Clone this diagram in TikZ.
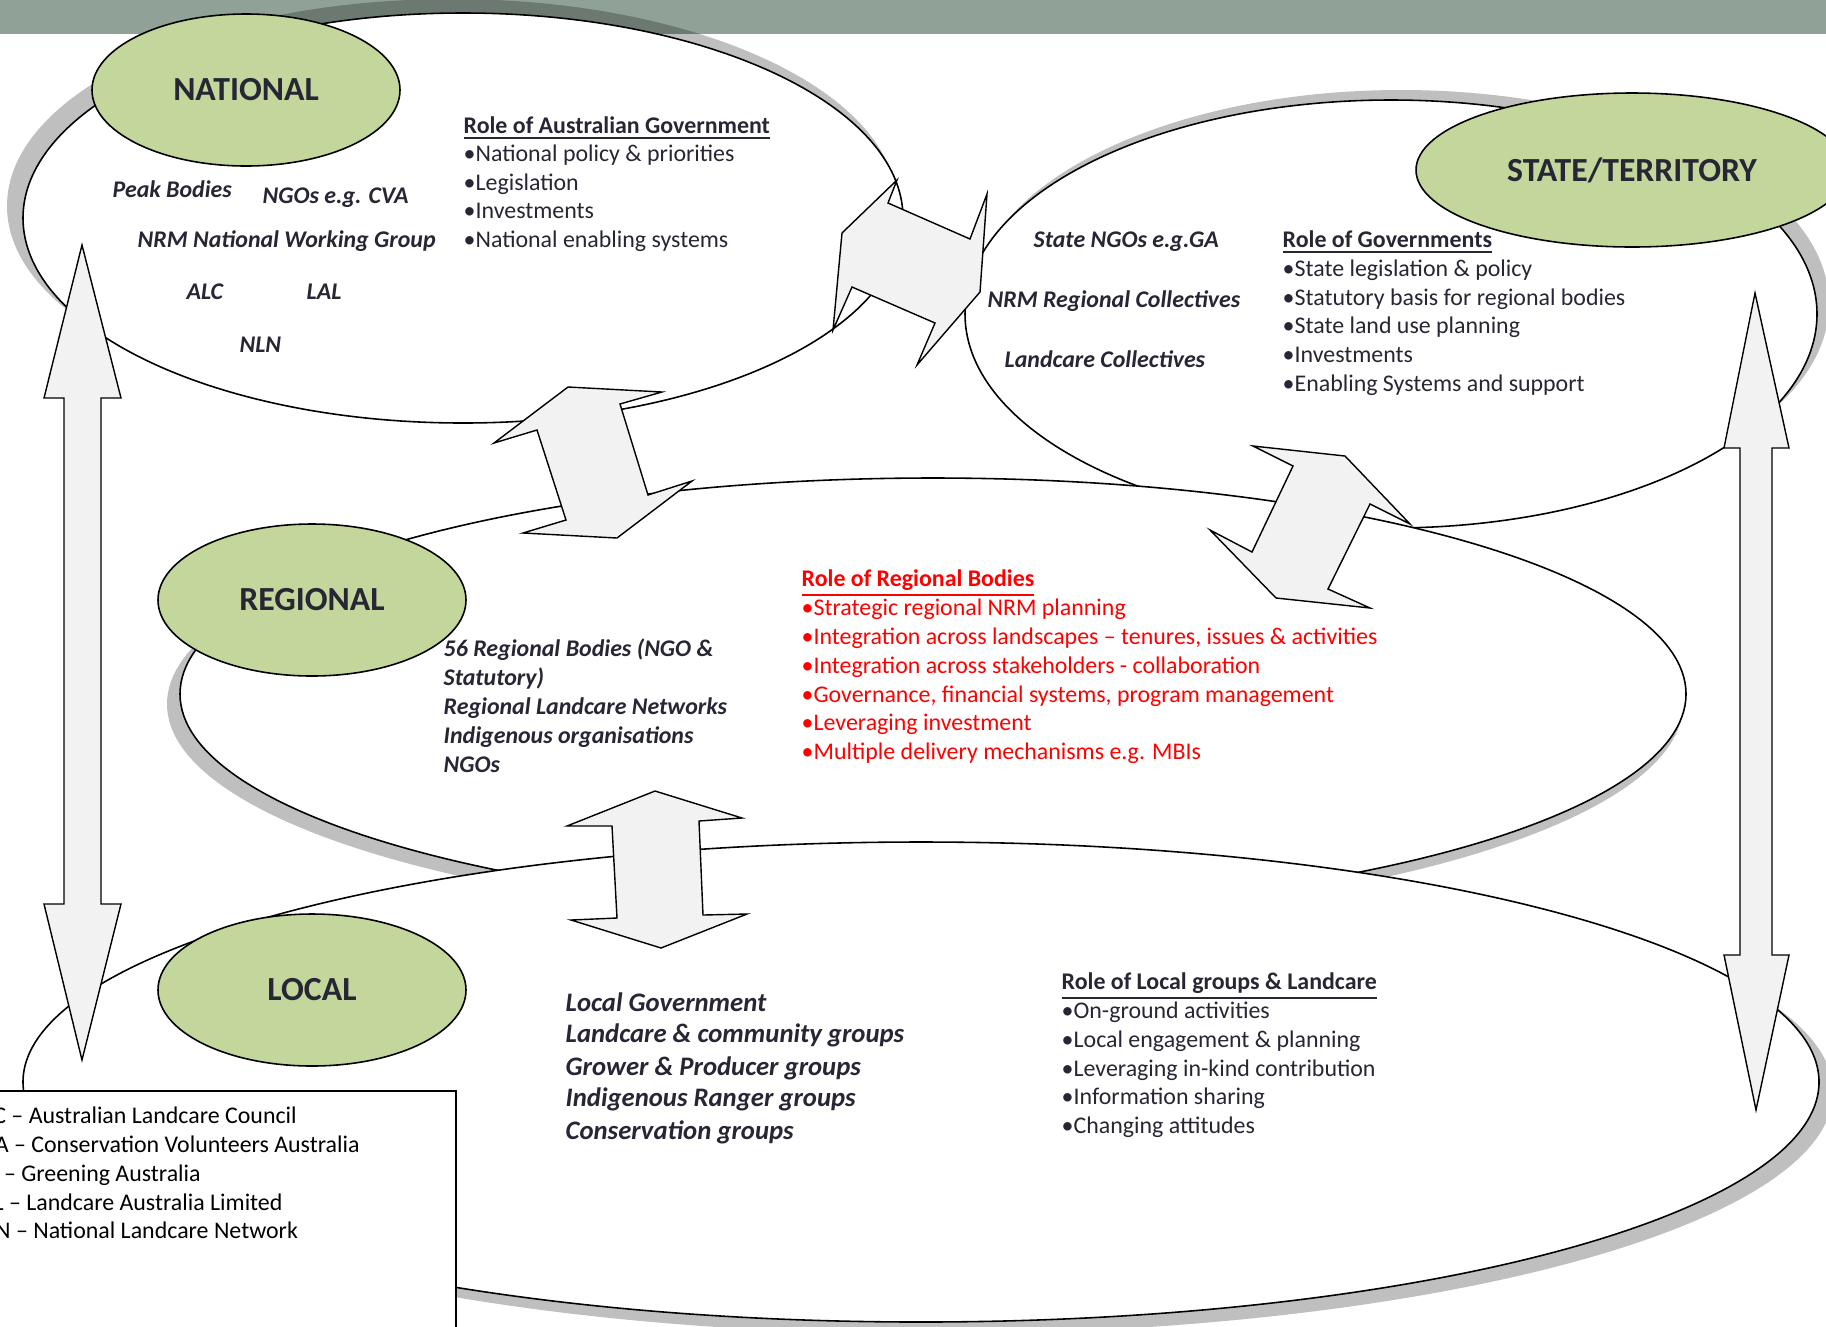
\documentclass[tikz,border=0pt]{standalone}
\usepackage{fontspec}
\setmainfont{Carlito}
\usetikzlibrary{shapes.geometric}
\definecolor{band}{RGB}{144,162,152}
\definecolor{leaf}{RGB}{195,214,155}
\definecolor{ink}{RGB}{38,38,52}
\definecolor{pale}{RGB}{242,242,242}
\tikzset{
  bigell/.style={draw=black, fill=white, line width=0.45pt},
  shadowfill/.style={fill=black, opacity=0.25},
  lvl/.style={ellipse, draw=black, fill=leaf, line width=0.45pt, inner sep=0pt, text=ink, font=\fontsize{9.6}{11}\selectfont\bfseries},
  txt/.style={anchor=base west, inner sep=0pt, text=ink, font=\fontsize{6.8}{8.2}\selectfont},
  hdr/.style={txt, font=\fontsize{6.8}{8.2}\selectfont\bfseries},
  grp/.style={txt, font=\fontsize{6.8}{8.2}\selectfont\bfseries\itshape},
  locgrp/.style={txt, font=\fontsize{7.6}{9.2}\selectfont\bfseries\itshape},
  blockarrow/.style={draw=black, fill=pale, line width=0.4pt}
}
\begin{document}
\begin{tikzpicture}[x=0.1mm, y=-0.1mm]
\useasboundingbox (0,0) rectangle (1826,1326);
\clip (0,0) rectangle (1826,1326);

%band
\fill [band] (0,0) rectangle (1826,34);

%national
\fill [shadowfill] (452,206) ellipse [x radius=445, y radius=207];
\draw [bigell] (463,218) ellipse [x radius=440, y radius=205];

%state
\fill [shadowfill] (1401,304) ellipse [x radius=428, y radius=214];
\draw [bigell] (1391,314) ellipse [x radius=426, y radius=214];

%regional
\fill [shadowfill] (925,704) ellipse [x radius=758, y radius=218];
\draw [bigell] (933,694) ellipse [x radius=753, y radius=216];

%local
\fill [shadowfill] (933,1092) ellipse [x radius=900, y radius=242];
\draw [bigell] (921,1082) ellipse [x radius=898, y radius=240];

%key box
\draw [fill=white, line width=0.45pt] (-10,1091) rectangle (456,1340);

%levels
\node [lvl, minimum width=30.8mm, minimum height=15.2mm] (national) at (246,90) {NATIONAL};
\node [lvl, minimum width=43.2mm, minimum height=15.4mm] (state) at (1632,170) {STATE/TERRITORY};
\node [lvl, minimum width=30.8mm, minimum height=15.2mm] (regional) at (312,600) {REGIONAL};
\node [lvl, minimum width=30.8mm, minimum height=15.2mm] (local) at (312,990) {LOCAL};

%block arrows
\draw [blockarrow] (82,245) -- (121,398) -- (101,398) -- (101,904) -- (121,904) -- (82,1060)
  -- (44,904) -- (64,904) -- (64,398) -- (44,398) -- cycle;
\draw [blockarrow] (1755,293) -- (1789,448) -- (1772,448) -- (1772,955) -- (1789,955) -- (1756,1110)
  -- (1724,955) -- (1740,955) -- (1740,448) -- (1724,448) -- cycle;
\draw [blockarrow] (897,180) -- (888,203) -- (970,239) -- (987,194) -- (980,292) -- (917,365)
  -- (935,323) -- (852,287) -- (833,330) -- (842,233) -- cycle;
\draw [blockarrow] (568,387) -- (662,392) -- (620,404) -- (648,495) -- (692,481) -- (617,538)
  -- (523,533) -- (566,520) -- (537,430) -- (494,443) -- cycle;
\draw [blockarrow] (1253,446) -- (1345,456) -- (1410,524) -- (1370,504) -- (1328,589) -- (1370,608)
  -- (1276,598) -- (1210,530) -- (1252,552) -- (1293,466) -- cycle;
\draw [blockarrow] (655,791) -- (742,818) -- (699,821) -- (703,915) -- (747,914) -- (661,948)
  -- (571,920) -- (617,918) -- (612,826) -- (567,826) -- cycle;

%national groups
\node [grp] (peak) at (112,197) {Peak Bodies};
\node [grp] (ngocva) at (262,203) {NGOs e.g. CVA};
\node [grp] (nwg) at (137,247) {NRM National Working Group};
\node [grp] (alc) at (186,299) {ALC};
\node [grp] (lal) at (306,299) {LAL};
\node [grp] (nln) at (239,352) {NLN};

%role of australian government
\node [hdr] (agrole) at (463,133) {\underline{Role of Australian Government}};
\node [txt] (ag1) at (463,161) {•National policy \& priorities};
\node [txt] (ag2) at (463,190) {•Legislation};
\node [txt] (ag3) at (463,218) {•Investments};
\node [txt] (ag4) at (463,247) {•National enabling systems};

%state groups
\node [grp] (sngo) at (1033,247) {State NGOs e.g.GA};
\node [grp] (nrmrc) at (987,307) {NRM Regional Collectives};
\node [grp] (lcc) at (1004,367) {Landcare Collectives};

%role of governments
\node [hdr] (sgrole) at (1282,247) {\underline{Role of Governments}};
\node [txt] (sg1) at (1282,276) {•State legislation \& policy};
\node [txt] (sg2) at (1282,305) {•Statutory basis for regional bodies};
\node [txt] (sg3) at (1282,333) {•State land use planning};
\node [txt] (sg4) at (1282,362) {•Investments};
\node [txt] (sg5) at (1282,391) {•Enabling Systems and support};

%regional groups
\node [grp] (rb1) at (443,656) {56 Regional Bodies (NGO \&};
\node [grp] (rb2) at (443,685) {Statutory)};
\node [grp] (rb3) at (443,714) {Regional Landcare Networks};
\node [grp] (rb4) at (443,743) {Indigenous organisations};
\node [grp] (rb5) at (443,772) {NGOs};

%role of regional bodies
\node [hdr, text=red] (rbrole) at (801,586) {\underline{Role of Regional Bodies}};
\node [txt, text=red] (rr1) at (801,615) {•Strategic regional NRM planning};
\node [txt, text=red] (rr2) at (801,644) {•Integration across landscapes – tenures, issues \& activities};
\node [txt, text=red] (rr3) at (801,673) {•Integration across stakeholders - collaboration};
\node [txt, text=red] (rr4) at (801,702) {•Governance, financial systems, program management};
\node [txt, text=red] (rr5) at (801,730) {•Leveraging investment};
\node [txt, text=red] (rr6) at (801,759) {•Multiple delivery mechanisms e.g. MBIs};

%local groups
\node [locgrp] (lg1) at (565,1011) {Local Government};
\node [locgrp] (lg2) at (565,1042) {Landcare \& community groups};
\node [locgrp] (lg3) at (565,1075) {Grower \& Producer groups};
\node [locgrp] (lg4) at (565,1106) {Indigenous Ranger groups};
\node [locgrp] (lg5) at (565,1139) {Conservation groups};

%role of local groups
\node [hdr] (lgrole) at (1061,989) {\underline{Role of Local groups \& Landcare}};
\node [txt] (lr1) at (1061,1018) {•On-ground activities};
\node [txt] (lr2) at (1061,1047) {•Local engagement \& planning};
\node [txt] (lr3) at (1061,1076) {•Leveraging in-kind contribution};
\node [txt] (lr4) at (1061,1104) {•Information sharing};
\node [txt] (lr5) at (1061,1133) {•Changing attitudes};

%key
\node [txt, text=black] (key1) at (-31,1123) {ALC – Australian Landcare Council};
\node [txt, text=black] (key2) at (-31,1152) {CVA – Conservation Volunteers Australia};
\node [txt, text=black] (key3) at (-31,1181) {GA – Greening Australia};
\node [txt, text=black] (key4) at (-31,1210) {LAL – Landcare Australia Limited};
\node [txt, text=black] (key5) at (-31,1238) {NLN – National Landcare Network};

\end{tikzpicture}
\end{document}
